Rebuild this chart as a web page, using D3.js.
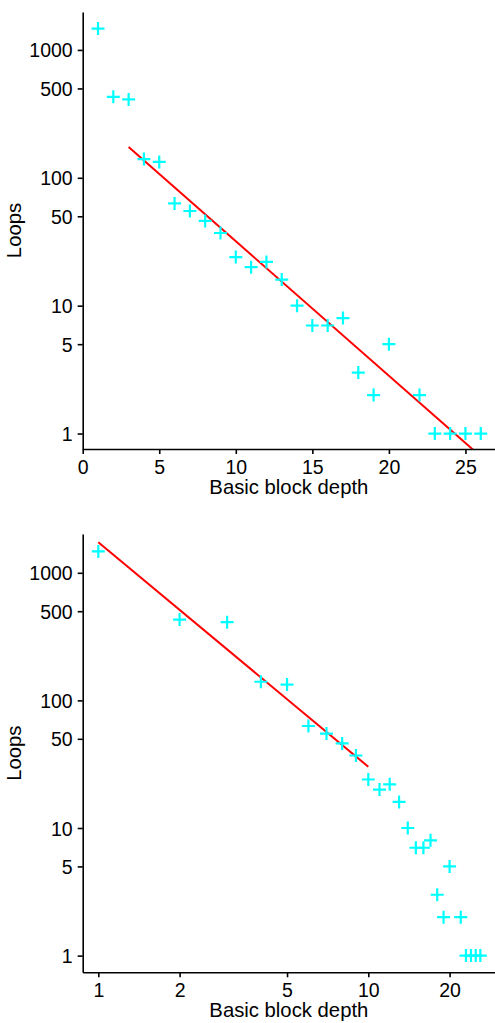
<!DOCTYPE html>
<html>
<head>
<meta charset="utf-8">
<script src="https://cdn.jsdelivr.net/npm/d3@7"></script>
<style>
  html, body { margin: 0; padding: 0; background: #fff; }
  svg { display: block; }
  text { font-family: "Liberation Sans", Arial, sans-serif; fill: #000; }
</style>
</head>
<body>
<script>
// ---- data ----
const depth = [1,2,3,4,5,6,7,8,9,10,11,12,13,14,15,16,17,18,19,20,22,23,24,25,26];
const loops = [1470,430,410,140,133,63,55,46,37,24,20,22,16,10,7,7,8,3,2,5,2,1,1,1,1];
const yTicks = [1,5,10,50,100,500,1000];
const xTicksTop = [0,5,10,15,20,25];
const xTicksBottom = [1,2,5,10,20];
// fit lines: log10(loops) = intercept + slope * x  (top, linear x)
const fitTop = { from: 3, to: 26, intercept: 2.556, slope: -0.1052 };
// log10(loops) = intercept + slope * log10(x)  (bottom, log x)
const fitBottom = { from: 1, to: 10, intercept: 3.239, slope: -1.759 };
const xLabel = "Basic block depth";
const yLabel = "Loops";

const W = 495, H = 1023;
const svg = d3.select("body").append("svg").attr("width", W).attr("height", H);
const FS = "19.5px";
const FS_TITLE = "20.3px";

function panel(opts) {
  const { x, y, left, right, top, bottom, xTicks, id, fitPts } = opts;
  const g = svg.append("g");
  g.append("clipPath").attr("id", id).append("rect")
    .attr("x", left).attr("y", top).attr("width", right - left).attr("height", bottom - top);

  // fit line
  g.append("path")
    .attr("clip-path", `url(#${id})`)
    .attr("d", d3.line().x(d => x(d[0])).y(d => y(d[1]))(fitPts))
    .attr("fill", "none").attr("stroke", "#ff0000").attr("stroke-width", 2);

  // points (plus markers)
  const arm = 6.5;
  g.selectAll("path.pt").data(depth.map((d, i) => [d, loops[i]])).enter()
    .append("path").attr("class", "pt")
    .attr("d", d => {
      const px = x(d[0]), py = y(d[1]);
      return `M${px - arm},${py}H${px + arm}M${px},${py - arm}V${py + arm}`;
    })
    .attr("stroke", "#00ffff").attr("stroke-width", 2.2).attr("fill", "none");

  // axes
  const xAxis = g.append("g").attr("transform", `translate(0,${bottom})`)
    .call(d3.axisBottom(x).tickValues(xTicks).tickFormat(d3.format("d")).tickSize(5).tickPadding(5).tickSizeOuter(0));
  const yAxis = g.append("g").attr("transform", `translate(${left},0)`)
    .call(d3.axisLeft(y).tickValues(yTicks).tickFormat(d3.format("d")).tickSize(5).tickPadding(5).tickSizeOuter(0));
  [xAxis, yAxis].forEach(a => {
    a.selectAll("path.domain").attr("stroke", "#000").attr("stroke-width", 1.6);
    a.selectAll(".tick line").attr("stroke", "#000").attr("stroke-width", 1.6);
    a.selectAll(".tick text").attr("font-size", FS)
      .attr("font-family", '"Liberation Sans", Arial, sans-serif').attr("fill", "#000");
  });
  xAxis.selectAll(".tick text").attr("dy", null).attr("y", 25);
  yAxis.selectAll(".tick text").attr("dy", "0.36em");

  g.append("text").attr("x", (left + right) / 2).attr("y", bottom + 45)
    .attr("text-anchor", "middle").attr("font-size", FS_TITLE).text(xLabel);
  g.append("text")
    .attr("transform", `translate(21,${(top + bottom) / 2}) rotate(-90)`)
    .attr("text-anchor", "middle").attr("font-size", FS_TITLE).text(yLabel);
}

// top panel
{
  const left = 82.7, right = 495, top = 12, bottom = 449;
  const x = d3.scaleLinear().domain([0, 26.93]).range([left, right]);
  const y = d3.scaleLog().domain([0.757, 1980]).range([bottom, top]);
  const fitPts = [fitTop.from, fitTop.to].map(v => [v, Math.pow(10, fitTop.intercept + fitTop.slope * v)]);
  panel({ x, y, left, right, top, bottom, xTicks: xTicksTop, id: "clipTop", fitPts });
}
// bottom panel
{
  const left = 82.7, right = 495, top = 534, bottom = 972.3;
  const x = d3.scaleLog().domain([0.8754, 29.46]).range([left, right]);
  const y = d3.scaleLog().domain([0.74, 2014]).range([bottom, top]);
  const fitPts = [fitBottom.from, fitBottom.to].map(v => [v, Math.pow(10, fitBottom.intercept + fitBottom.slope * Math.log10(v))]);
  panel({ x, y, left, right, top, bottom, xTicks: xTicksBottom, id: "clipBottom", fitPts });
}
</script>
</body>
</html>
